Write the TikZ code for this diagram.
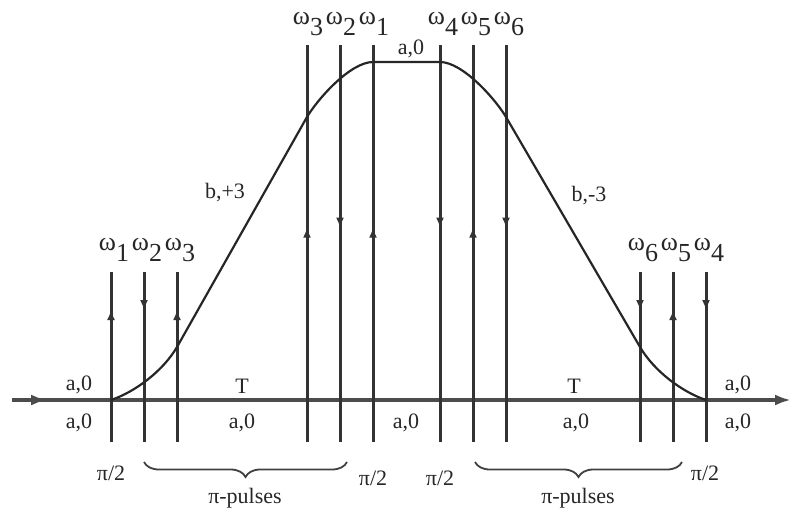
\documentclass[tikz,border=0pt]{standalone}
\usepackage{fontspec}
\setmainfont{Liberation Serif}
\usetikzlibrary{decorations.markings,decorations.pathreplacing,arrows.meta}
\newcommand{\om}[1]{ω\raisebox{-0.9ex}{#1}}
\tikzset{
  pulse/.style={line width=1.5pt, draw=black!80},
  arrdn/.style={postaction={decorate}, decoration={markings, mark=at position #1 with {\arrow{Latex[length=5pt,width=4pt]}}}},
  arrup/.style={postaction={decorate}, decoration={markings, mark=at position #1 with {\arrowreversed{Latex[length=5pt,width=4pt]}}}},
  lbl/.style={inner sep=0pt, font=\fontsize{11}{13}\selectfont, text=black!85},
  omlbl/.style={inner sep=0pt, font=\fontsize{13}{15}\selectfont, text=black!85},
  path/.style={line width=1.1pt, draw=black!85},
  axis/.style={line width=1.6pt, draw=black!70},
  brc/.style={decorate, decoration={brace, mirror, amplitude=7.5pt}, line width=0.9pt, draw=black!75}
}
\begin{document}
\begin{tikzpicture}[x=0.5pt,y=-0.5pt]
\useasboundingbox (0,0) rectangle (793,509);
% axis
\coordinate (axL) at (12,400);
\coordinate (axR) at (791,400);
\draw[axis, -{Latex[length=8pt,width=5.5pt]}, postaction={decorate}, decoration={markings, mark=at position 0.045 with {\arrow{Latex[length=8pt,width=5.5pt]}}}] (axL) -- (axR);
% pulse lines
\foreach \n/\x/\t/\d/\p in {L1/111/272/arrup/0.224, L2/144/272/arrdn/0.224, L3/177/272/arrup/0.224,
  C1/307/45/arrup/0.46, C2/340/45/arrdn/0.46, C3/373/45/arrup/0.46,
  C4/440/45/arrdn/0.46, C5/473/45/arrup/0.46, C6/506/45/arrdn/0.46,
  R1/640/272/arrdn/0.224, R2/673/272/arrup/0.224, R3/706/272/arrdn/0.224}{
  \coordinate (t\n) at (\x,\t);
  \coordinate (b\n) at (\x,442);
  \draw[pulse, \d=\p] (t\n) -- (b\n);
}
% trajectory
\coordinate (s0) at (111,400);
\coordinate (s1) at (177,347);
\coordinate (s2) at (307,117);
\coordinate (s3) at (373,62);
\coordinate (s4) at (440,62);
\coordinate (s5) at (506,117);
\coordinate (s6) at (640,347);
\coordinate (s7) at (706,400);
\draw[path] (s0) .. controls (135,392) and (163,371) .. (s1) -- (s2)
  .. controls (317,100) and (350,62) .. (s3) -- (s4)
  .. controls (463,62) and (496,100) .. (s5) -- (s6)
  .. controls (654,371) and (682,392) .. (s7);
% omega labels
\node[omlbl] (oC1) at (308,24) {\om{3}};
\node[omlbl] (oC2) at (341,24) {\om{2}};
\node[omlbl] (oC3) at (374,24) {\om{1}};
\node[omlbl] (oC4) at (443,24) {\om{4}};
\node[omlbl] (oC5) at (476,24) {\om{5}};
\node[omlbl] (oC6) at (509,24) {\om{6}};
\node[omlbl] (oL1) at (114,250) {\om{1}};
\node[omlbl] (oL2) at (147,250) {\om{2}};
\node[omlbl] (oL3) at (180,250) {\om{3}};
\node[omlbl] (oR1) at (643,250) {\om{6}};
\node[omlbl] (oR2) at (676,250) {\om{5}};
\node[omlbl] (oR3) at (709,250) {\om{4}};
% state labels
\node[lbl] (top) at (411,49) {a,0};
\node[lbl] (bp) at (225,193) {b,+3};
\node[lbl] (bm) at (589,196) {b,-3};
\node[lbl] (aul) at (79,385) {a,0};
\node[lbl] (adl) at (79,423) {a,0};
\node[lbl] (aur) at (738,385) {a,0};
\node[lbl] (adr) at (738,423) {a,0};
\node[lbl] (T1) at (242,386) {T};
\node[lbl] (T2) at (574,386) {T};
\node[lbl] (a1) at (242,423) {a,0};
\node[lbl] (a2) at (406,423) {a,0};
\node[lbl] (a3) at (576,423) {a,0};
% pulse type labels
\node[lbl] (p1) at (111,473) {π/2};
\node[lbl] (p2) at (373,478) {π/2};
\node[lbl] (p3) at (440,478) {π/2};
\node[lbl] (p4) at (705,473) {π/2};
\coordinate (br1a) at (144,462);
\coordinate (br1b) at (347,462);
\coordinate (br2a) at (475,462);
\coordinate (br2b) at (682,462);
\draw[brc] (br1a) -- (br1b);
\draw[brc] (br2a) -- (br2b);
\node[lbl] (pp1) at (245,498) {π-pulses};
\node[lbl] (pp2) at (578,498) {π-pulses};
\end{tikzpicture}
\end{document}
